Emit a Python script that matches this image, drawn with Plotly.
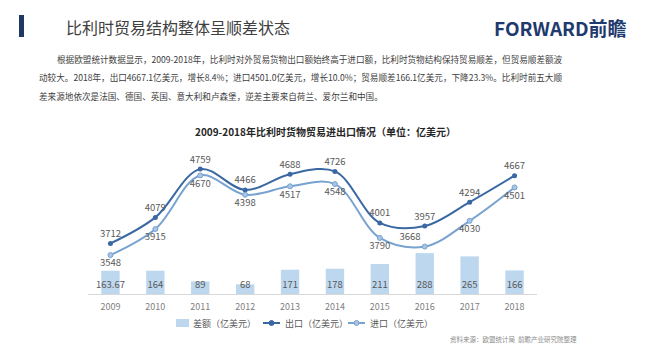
import plotly.graph_objects as go

years = ["2009", "2010", "2011", "2012", "2013", "2014", "2015", "2016", "2017", "2018"]
export_vals = [3712, 4079, 4759, 4466, 4688, 4726, 4001, 3957, 4294, 4667]
import_vals = [3548, 3915, 4670, 4398, 4517, 4548, 3790, 3668, 4030, 4501]
diff_vals = [163.67, 164, 89, 68, 171, 178, 211, 288, 265, 166]
diff_labels = ["163.67", "164", "89", "68", "171", "178", "211", "288", "265", "166"]

page_title = "比利时贸易结构整体呈顺差状态"
logo_text = "FORWARD前瞻"
para_lines = [
    "根据欧盟统计数据显示，2009-2018年，比利时对外贸易货物出口额始终高于进口额，比利时货物结构保持贸易顺差，但贸易顺差额波",
    "动较大。2018年，出口4667.1亿美元，增长8.4%；进口4501.0亿美元，增长10.0%；贸易顺差166.1亿美元，下降23.3%。比利时前五大顺",
    "差来源地依次是法国、德国、英国、意大利和卢森堡，逆差主要来自荷兰、爱尔兰和中国。",
]
chart_title = "<b>2009-2018年比利时货物贸易进出口情况（单位：亿美元）</b>"
source_text = "资料来源：欧盟统计局  前瞻产业研究院整理"
names = ["差额（亿美元）", "出口（亿美元）", "进口（亿美元）"]

W, H = 650, 358
L, R, T, B = 88, 113, 152, 64
PW, PH = W - L - R, H - T - B

def px(x):
    return (x - L) / PW

def py(y):
    return (H - B - y) / PH

FONT = "Noto Sans CJK SC"
C_EXP = "#3a68a3"
C_IMP = "#78a2d0"
C_IMP_FILL = "#a9c4e4"
C_BAR = "#bdd7ee"
C_TXT = "#595959"

fig = go.Figure()

fig.add_trace(go.Bar(
    x=years, y=diff_vals, name=names[0], marker=dict(color=C_BAR, line=dict(width=0)),
    width=0.41, yaxis="y", showlegend=False,
))
fig.add_trace(go.Scatter(
    x=years, y=[56] * len(years), text=diff_labels, mode="text", showlegend=False,
    textfont=dict(family=FONT, size=9.5, color=C_TXT), yaxis="y", hoverinfo="skip",
))
fig.add_trace(go.Scatter(
    x=years, y=export_vals, name=names[1], mode="lines+markers+text",
    line=dict(color=C_EXP, width=2, shape="spline", smoothing=1),
    marker=dict(size=5, color=C_EXP),
    text=[str(v) for v in export_vals], textposition="top center",
    textfont=dict(family=FONT, size=9.5, color=C_TXT), yaxis="y2", showlegend=False,
))
imp_pos = ["bottom center"] * len(years)
imp_pos[7] = "top left"
fig.add_trace(go.Scatter(
    x=years, y=import_vals, name=names[2], mode="lines+markers+text",
    line=dict(color=C_IMP, width=2, shape="spline", smoothing=1),
    marker=dict(size=5, color=C_IMP_FILL, line=dict(color=C_IMP, width=1)),
    text=[str(v) for v in import_vals], textposition=imp_pos,
    textfont=dict(family=FONT, size=9.5, color=C_TXT), yaxis="y2", showlegend=False,
))

annotations = [
    dict(text=page_title, x=px(64), y=py(27), xref="paper", yref="paper", xanchor="left",
         yanchor="middle", showarrow=False, font=dict(family=FONT, size=16, color="#404040")),
    dict(text="<b>" + logo_text + "</b>", x=px(629), y=py(27), xref="paper", yref="paper",
         xanchor="right", yanchor="middle", showarrow=False,
         font=dict(family=FONT, size=19, color="#1f3a6e")),
    dict(text=chart_title, x=px(325), y=py(131), xref="paper", yref="paper", xanchor="center",
         yanchor="middle", showarrow=False, font=dict(family=FONT, size=10, color="#262626")),
    dict(text=source_text, x=px(579), y=py(339), xref="paper", yref="paper", xanchor="right",
         yanchor="middle", showarrow=False, font=dict(family=FONT, size=6.5, color="#8c8c8c")),
]
para_x = [55, 37, 37]
para_y = [59, 77, 96]
for t, xx, yy in zip(para_lines, para_x, para_y):
    annotations.append(dict(text=t, x=px(xx), y=py(yy), xref="paper", yref="paper",
                            xanchor="left", yanchor="middle", showarrow=False,
                            font=dict(family=FONT, size=8.6, color="#404040")))

# custom legend (decoration, not data)
LEG_Y = 323
shapes = [dict(type="rect", xref="paper", yref="paper", x0=px(19), x1=px(24),
               y0=py(37), y1=py(15), fillcolor="#1f3864", line=dict(width=0))]
shapes.append(dict(type="rect", xref="paper", yref="paper", x0=px(176), x1=px(189),
                   y0=py(LEG_Y + 4), y1=py(LEG_Y - 4), fillcolor=C_BAR, line=dict(width=0)))
annotations.append(dict(text=names[0], x=px(191), y=py(LEG_Y), xref="paper", yref="paper",
                        xanchor="left", yanchor="middle", showarrow=False,
                        font=dict(family=FONT, size=9, color=C_TXT)))
for (x0, col, fill, nm) in [(263, C_EXP, C_EXP, names[1]), (348, C_IMP, C_IMP_FILL, names[2])]:
    shapes.append(dict(type="line", xref="paper", yref="paper", x0=px(x0), x1=px(x0 + 17),
                       y0=py(LEG_Y), y1=py(LEG_Y), line=dict(color=col, width=2)))
    shapes.append(dict(type="circle", xref="paper", yref="paper", x0=px(x0 + 6), x1=px(x0 + 11),
                       y0=py(LEG_Y + 2.5), y1=py(LEG_Y - 2.5), fillcolor=fill,
                       line=dict(color=col, width=1)))
    annotations.append(dict(text=nm, x=px(x0 + 20), y=py(LEG_Y), xref="paper", yref="paper",
                            xanchor="left", yanchor="middle", showarrow=False,
                            font=dict(family=FONT, size=9, color=C_TXT)))

fig.update_layout(
    width=W, height=H, autosize=False,
    margin=dict(l=L, r=R, t=T, b=B, pad=0),
    paper_bgcolor="white", plot_bgcolor="white",
    font=dict(family=FONT, color=C_TXT),
    showlegend=False,
    xaxis=dict(type="category", range=[-0.5, 9.5], showline=True, linecolor="#d9d9d9",
               linewidth=1, showgrid=False, ticks="", zeroline=False, ticklabelstandoff=4,
               tickfont=dict(family=FONT, size=9, color="#808080")),
    yaxis=dict(range=[0, 1000], visible=False, showgrid=False, zeroline=False),
    yaxis2=dict(range=[3000, 5000], visible=False, showgrid=False, zeroline=False,
                overlaying="y", side="left"),
    annotations=annotations,
    shapes=shapes,
)

fig.write_html("out.html", config={"displayModeBar": False},
               post_script="document.body.style.margin='0px';")
